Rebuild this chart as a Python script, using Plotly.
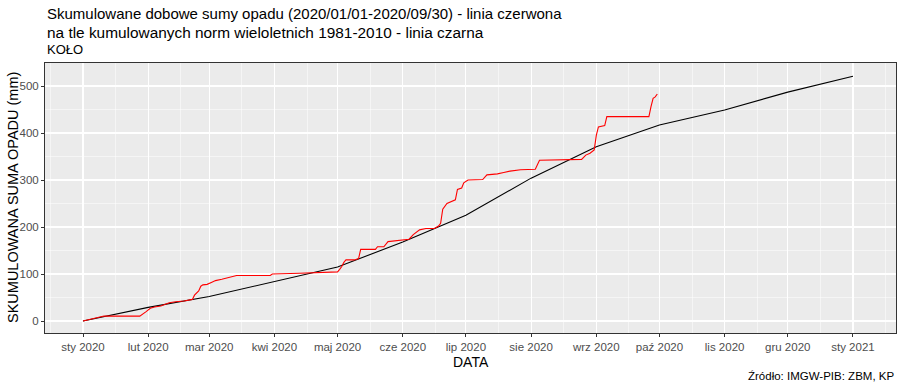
import pandas as pd
import plotly.graph_objects as go

# --- data ---
# observed cumulative precipitation (mm), day index 0 = 2020-01-01
obs_day = [0, 2, 5, 9, 10, 27, 29, 30, 32, 34, 37, 40, 41, 44, 48, 52, 53, 55, 56, 57,
           59, 61, 63, 66, 68, 70, 73, 89, 90, 103, 112, 121, 122, 123, 124, 125, 129, 131,
           132, 139, 140, 143, 145, 150, 152, 155, 157, 158, 160, 163, 167, 169, 170, 171,
           173, 177, 178, 180, 181, 183, 190, 192, 197, 200, 203, 208, 215, 217, 237, 239,
           241, 243, 244, 245, 248, 249, 269, 270, 271, 272, 273]
obs_mm = [0, 2, 5.5, 9, 10.5, 10.5, 16, 20, 27, 30, 32, 37.5, 39, 41, 42.5, 46, 55, 64, 74, 77,
          78, 82, 86, 89, 91, 93, 97, 97, 100, 101.5, 103, 104.5, 110, 116, 125, 130, 130, 133,
          152.5, 152.5, 158, 158, 169, 171, 172, 174, 184, 188, 194, 197, 197, 202, 208, 238,
          250, 258, 280, 283, 294, 300, 301, 311, 313, 316, 319, 322, 323, 342, 344, 353,
          357, 364, 395, 413, 416, 435, 435, 456, 474, 477, 483]

# cumulative long-term norm 1981-2010 (mm) at the first day of each month
norm_dates = ["2020-01-01", "2020-02-01", "2020-03-01", "2020-04-01", "2020-05-01",
              "2020-06-01", "2020-07-01", "2020-08-01", "2020-09-01", "2020-10-01",
              "2020-11-01", "2020-12-01", "2021-01-01"]
norm_mm = [0, 29, 52, 84, 115, 168, 225, 304, 371, 417, 449, 487, 521]

tick_dates = norm_dates
tick_labels = ["sty 2020", "lut 2020", "mar 2020", "kwi 2020", "maj 2020", "cze 2020",
               "lip 2020", "sie 2020", "wrz 2020", "paź 2020", "lis 2020", "gru 2020",
               "sty 2021"]
y_ticks = [0, 100, 200, 300, 400, 500]

obs_dates = pd.Timestamp("2020-01-01") + pd.to_timedelta(obs_day, unit="D")

FONT = "Liberation Sans, Arial, Helvetica, sans-serif"

fig = go.Figure()
fig.add_trace(go.Scatter(x=pd.to_datetime(norm_dates), y=norm_mm, mode="lines",
                         line=dict(color="black", width=1.1), hoverinfo="skip"))
fig.add_trace(go.Scatter(x=obs_dates, y=obs_mm, mode="lines",
                         line=dict(color="red", width=1.1), hoverinfo="skip"))

W, H = 900, 386
ml, mr, mt, mb = 45, 4, 63, 53
ph = H - mt - mb

def ypaper(ypix):
    return 1 + (mt - ypix) / ph

fig.update_layout(
    width=W, height=H,
    margin=dict(l=ml, r=mr, t=mt, b=mb),
    paper_bgcolor="white", plot_bgcolor="#EBEBEB",
    showlegend=False,
    font=dict(family=FONT, color="black"),
    xaxis=dict(
        type="date",
        range=["2019-12-13 22:30", "2021-01-21 11:00"],
        tickmode="array", tickvals=tick_dates, ticktext=tick_labels,
        tickfont=dict(size=11.5, color="#4D4D4D"),
        ticks="outside", ticklen=3, tickcolor="#333333", tickwidth=1,
        showgrid=True, gridcolor="white", gridwidth=1.1,
        minor=dict(dtick="M1", tick0="2019-12-16 12:00", showgrid=True,
                   gridcolor="white", gridwidth=0.5, ticks=""),
        showline=True, mirror=True, linecolor="#333333", linewidth=1,
        zeroline=False, automargin=False,
    ),
    yaxis=dict(
        range=[-25.5, 549],
        tickmode="array", tickvals=y_ticks,
        tickfont=dict(size=11.5, color="#4D4D4D"),
        ticks="outside", ticklen=3, tickcolor="#333333", tickwidth=1,
        showgrid=True, gridcolor="white", gridwidth=1.1,
        minor=dict(dtick=50, tick0=50, showgrid=True, gridcolor="white",
                   gridwidth=0.5, ticks=""),
        showline=True, mirror=True, linecolor="#333333", linewidth=1,
        zeroline=False, automargin=False,
    ),
    annotations=[
        dict(text="Skumulowane dobowe sumy opadu (2020/01/01-2020/09/30) - linia czerwona",
             xref="paper", yref="paper", x=0, y=ypaper(13), xanchor="left", yanchor="middle",
             showarrow=False, font=dict(size=15, color="black")),
        dict(text="na tle kumulowanych norm wieloletnich 1981-2010 - linia czarna",
             xref="paper", yref="paper", x=0, y=ypaper(33), xanchor="left", yanchor="middle",
             showarrow=False, font=dict(size=15.4, color="black")),
        dict(text="KOŁO",
             xref="paper", yref="paper", x=0, y=ypaper(49), xanchor="left", yanchor="middle",
             showarrow=False, font=dict(size=13, color="black")),
        dict(text="DATA",
             xref="paper", yref="paper", x=0.5, y=ypaper(362), xanchor="center", yanchor="middle",
             showarrow=False, font=dict(size=14, color="black")),
        dict(text="SKUMULOWANA SUMA OPADU (mm)", textangle=-90,
             xref="paper", yref="paper", x=(13 - ml) / (W - ml - mr), y=0.5,
             xanchor="center", yanchor="middle",
             showarrow=False, font=dict(size=14.5, color="black")),
        dict(text="Źródło: IMGW-PIB: ZBM, KP",
             xref="paper", yref="paper", x=1, y=ypaper(376), xanchor="right", yanchor="middle",
             showarrow=False, font=dict(size=11.5, color="black")),
    ],
)

fig.write_html("out.html",
               config={"displayModeBar": False, "staticPlot": True},
               post_script="document.body.style.margin='0px';document.body.style.padding='0px';")
